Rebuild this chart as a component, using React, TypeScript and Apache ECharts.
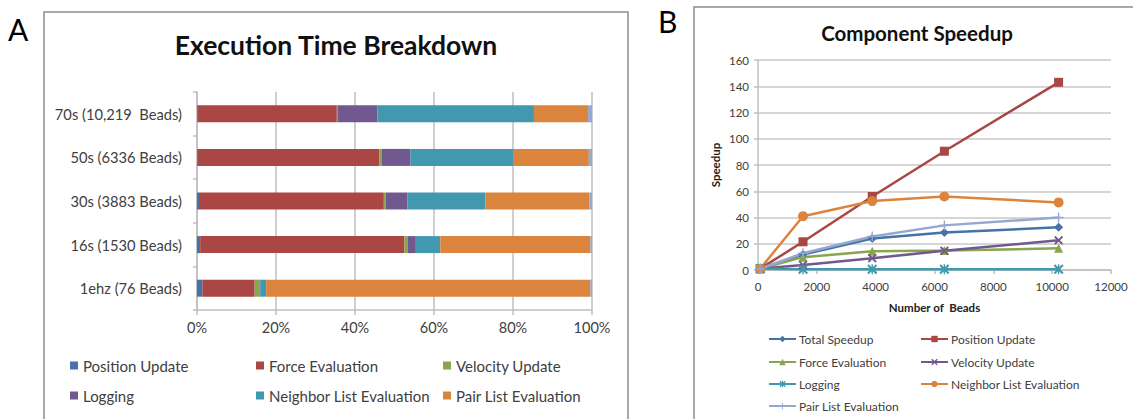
import React, { useEffect, useRef } from "react";
import * as echarts from "echarts";

// ---- Panel A data (percent of execution time) ----
const categories = [
  "1ehz (76 Beads)",
  "16s (1530 Beads)",
  "30s (3883 Beads)",
  "50s (6336 Beads)",
  "70s (10,219  Beads)",
];
const positionUpdatePct = [1.35, 0.8, 0.5, 0.2, 0.1];
const forceEvaluationPct = [13.25, 51.7, 46.8, 46.0, 35.3];
const velocityUpdatePct = [1.2, 0.8, 0.5, 0.5, 0.3];
const loggingPct = [0.2, 2.1, 5.5, 7.3, 10.0];
const neighborListPct = [1.5, 6.2, 19.7, 26.0, 39.6];
const pairListPct = [82.1, 38.0, 26.3, 19.2, 13.7];
const otherPct = [0.4, 0.4, 0.7, 0.8, 1.0];
const percentTicks = [0, 20, 40, 60, 80, 100];

// ---- Panel B data (speedup vs number of beads) ----
const beads = [76, 1530, 3883, 6336, 10219];
const totalSpeedup = [1, 11.8, 24, 28.5, 32.5];
const positionSpeedup = [1, 21.5, 56, 90.5, 143];
const forceSpeedup = [1, 9.8, 14.2, 14.8, 16.5];
const velocitySpeedup = [1, 3.8, 9.0, 14.6, 22.6];
const loggingSpeedup = [1, 0.5, 0.5, 0.6, 0.6];
const neighborSpeedup = [1, 41, 52.5, 56, 51.5];
const pairSpeedup = [1, 12.8, 25.5, 34, 40];

const C = {
  blue: "#4572A7",
  red: "#AA4643",
  green: "#89A54E",
  purple: "#71588F",
  aqua: "#4198AF",
  orange: "#DB843D",
  light: "#93A9CF",
};

const FONT = "Lato, 'Open Sans', sans-serif";
const TXT = "#404040";
const GRID = "#BFBFBF";

const X_PATH =
  "path://M0,1.5 L1.5,0 L5,3.5 L8.5,0 L10,1.5 L6.5,5 L10,8.5 L8.5,10 L5,6.5 L1.5,10 L0,8.5 L3.5,5 Z";
const STAR_PATH =
  "path://M0,1.5 L1.5,0 L5,3.5 L8.5,0 L10,1.5 L6.5,5 L10,8.5 L8.5,10 L5,6.5 L1.5,10 L0,8.5 L3.5,5 Z M4.3,0 L5.7,0 L5.7,10 L4.3,10 Z";
const PLUS_PATH = "path://M4.3,0 H5.7 V4.3 H10 V5.7 H5.7 V10 H4.3 V5.7 H0 V4.3 H4.3 Z";

function pairs(vals: number[]) {
  return beads.map((b, i) => [b, vals[i]]);
}

export default function App() {
  const ref = useRef<HTMLDivElement>(null);

  useEffect(() => {
    if (!ref.current) return;
    const chart = echarts.init(ref.current, undefined, { renderer: "svg" });

    const barDefs = [
      { name: "Position Update", data: positionUpdatePct, color: C.blue },
      { name: "Force Evaluation", data: forceEvaluationPct, color: C.red },
      { name: "Velocity Update", data: velocityUpdatePct, color: C.green },
      { name: "Logging", data: loggingPct, color: C.purple },
      { name: "Neighbor List Evaluation", data: neighborListPct, color: C.aqua },
      { name: "Pair List Evaluation", data: pairListPct, color: C.orange },
      { name: "Other", data: otherPct, color: C.light },
    ];

    const lineDefs = [
      { name: "Total Speedup", data: totalSpeedup, color: C.blue, symbol: "diamond", size: 9 },
      { name: "Position Update ", data: positionSpeedup, color: C.red, symbol: "rect", size: 9 },
      { name: "Force Evaluation ", data: forceSpeedup, color: C.green, symbol: "triangle", size: 9 },
      { name: "Velocity Update ", data: velocitySpeedup, color: C.purple, symbol: X_PATH, size: 9 },
      { name: "Logging ", data: loggingSpeedup, color: C.aqua, symbol: STAR_PATH, size: 10 },
      { name: "Neighbor List Evaluation ", data: neighborSpeedup, color: C.orange, symbol: "circle", size: 10 },
      { name: "Pair List Evaluation ", data: pairSpeedup, color: C.light, symbol: PLUS_PATH, size: 10 },
    ];

    // Legend positions, panel A
    const legendA = [
      { name: "Position Update", left: 70, top: 358 },
      { name: "Force Evaluation", left: 256, top: 358 },
      { name: "Velocity Update", left: 443, top: 358 },
      { name: "Logging", left: 70, top: 388 },
      { name: "Neighbor List Evaluation", left: 256, top: 388 },
      { name: "Pair List Evaluation", left: 443, top: 388 },
    ];
    const legendB = [
      { name: "Total Speedup", left: 768, top: 332 },
      { name: "Position Update ", left: 920, top: 332 },
      { name: "Force Evaluation ", left: 768, top: 355 },
      { name: "Velocity Update ", left: 920, top: 355 },
      { name: "Logging ", left: 768, top: 377 },
      { name: "Neighbor List Evaluation ", left: 920, top: 377 },
      { name: "Pair List Evaluation ", left: 768, top: 399 },
    ];

    const legends: any[] = [
      ...legendA.map((l) => ({
        data: [l.name.trim()],
        left: l.left,
        top: l.top,
        padding: 0,
        icon: "rect",
        itemWidth: 8,
        itemHeight: 8,
        selectedMode: false,
        textStyle: { fontFamily: FONT, fontSize: 15, color: TXT, lineHeight: 14 },
      })),
      ...legendB.map((l) => ({
        data: [l.name],
        left: l.left,
        top: l.top,
        padding: 0,
        itemWidth: 27,
        itemHeight: 8,
        selectedMode: false,
        textStyle: { fontFamily: FONT, fontSize: 12, color: TXT, lineHeight: 14, padding: [0, 0, 0, -2] },
      })),
    ];

    const option: any = {
      animation: false,
      backgroundColor: "#ffffff",
      textStyle: { fontFamily: FONT },
      legend: legends,
      grid: [
        { left: 197, top: 92, width: 395, height: 218, containLabel: false },
        { left: 758, top: 60, width: 353, height: 210, containLabel: false },
      ],
      xAxis: [
        {
          type: "value",
          gridIndex: 0,
          min: 0,
          max: 100,
          interval: 20,
          axisLine: { show: true, lineStyle: { color: GRID, width: 1.5 } },
          axisTick: { show: true, length: 5, lineStyle: { color: GRID, width: 1.5 } },
          splitLine: { show: true, lineStyle: { color: GRID, width: 1.5 } },
          axisLabel: {
            formatter: (v: number) => (percentTicks.includes(v) ? v + "%" : ""),
            color: TXT,
            fontFamily: FONT,
            fontSize: 14.5,
            margin: 10,
          },
        },
        {
          type: "value",
          gridIndex: 1,
          min: 0,
          max: 12000,
          interval: 2000,
          name: "Number of  Beads",
          nameLocation: "middle",
          nameGap: 31,
          nameTextStyle: { fontFamily: FONT, fontSize: 11.5, fontWeight: "bold", color: "#222" },
          axisLine: { show: true, lineStyle: { color: GRID, width: 1.5 } },
          axisTick: { show: true, length: 4, lineStyle: { color: GRID, width: 1.5 } },
          splitLine: { show: false },
          axisLabel: {
            formatter: (v: number) => String(v),
            color: TXT,
            fontFamily: FONT,
            fontSize: 11.5,
            margin: 10,
          },
        },
      ],
      yAxis: [
        {
          type: "category",
          gridIndex: 0,
          data: categories,
          axisLine: { show: true, lineStyle: { color: GRID, width: 1.5 } },
          axisTick: { show: true, length: 4, lineStyle: { color: GRID, width: 1.5 } },
          axisLabel: { color: TXT, fontFamily: FONT, fontSize: 14.7, margin: 15 },
        },
        {
          type: "value",
          gridIndex: 1,
          min: 0,
          max: 160,
          interval: 20,
          name: "Speedup",
          nameLocation: "middle",
          nameGap: 37,
          nameRotate: 90,
          nameTextStyle: { fontFamily: FONT, fontSize: 11.5, fontWeight: "bold", color: "#222" },
          axisLine: { show: true, lineStyle: { color: GRID, width: 1.5 } },
          axisTick: { show: true, length: 4, lineStyle: { color: GRID, width: 1.5 } },
          splitLine: { show: true, lineStyle: { color: "#C8C8C8", width: 1.5 } },
          axisLabel: { color: TXT, fontFamily: FONT, fontSize: 11.5, margin: 9 },
        },
      ],
      series: [
        ...barDefs.map((b) => ({
          type: "bar",
          name: b.name,
          stack: "time",
          xAxisIndex: 0,
          yAxisIndex: 0,
          barWidth: 17,
          data: b.data,
          itemStyle: { color: b.color },
        })),
        ...lineDefs.map((l) => ({
          type: "line",
          name: l.name,
          xAxisIndex: 1,
          yAxisIndex: 1,
          data: pairs(l.data),
          symbol: l.symbol,
          symbolSize: l.size,
          showSymbol: true,
          lineStyle: { color: l.color, width: 2.5 },
          itemStyle: { color: l.color },
        })),
      ],
      graphic: [
        {
          type: "rect",
          shape: { x: 44, y: 12, width: 584, height: 420 },
          style: { fill: "none", stroke: "#8C8C8C", lineWidth: 1.5 },
          silent: true,
        },
        {
          type: "rect",
          shape: { x: 694, y: 7, width: 460, height: 425 },
          style: { fill: "none", stroke: "#8C8C8C", lineWidth: 1.5 },
          silent: true,
        },
        {
          type: "text",
          x: 8,
          y: 29,
          style: { text: "A", font: "30px " + FONT, fill: "#000", textVerticalAlign: "middle" },
        },
        {
          type: "text",
          x: 658,
          y: 21,
          style: { text: "B", font: "30px " + FONT, fill: "#000", textVerticalAlign: "middle" },
        },
        {
          type: "text",
          x: 336,
          y: 45,
          style: {
            text: "Execution Time Breakdown",
            font: "bold 26.5px " + FONT,
            fill: "#111",
            textAlign: "center",
            textVerticalAlign: "middle",
          },
        },
        {
          type: "text",
          x: 917,
          y: 33,
          style: {
            text: "Component Speedup",
            font: "bold 20.5px " + FONT,
            fill: "#111",
            textAlign: "center",
            textVerticalAlign: "middle",
          },
        },
      ],
    };

    chart.setOption(option);
    return () => chart.dispose();
  }, []);

  return (
    <div
      ref={ref}
      style={{ position: "fixed", left: 0, top: 0, width: 1133, height: 419 }}
    />
  );
}
